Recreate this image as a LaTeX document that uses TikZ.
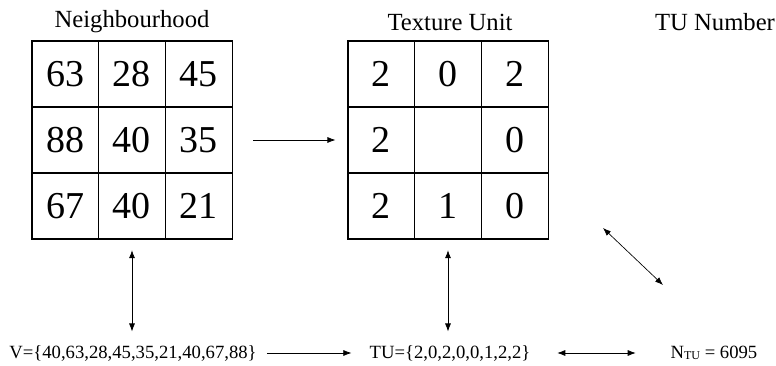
\documentclass[tikz,border=0pt]{standalone}
\usepackage{fontspec}
\setmainfont{Liberation Serif}
\usetikzlibrary{arrows.meta}

\tikzset{
  cell/.style={draw, line width=0.8pt, minimum width=50pt, minimum height=49.5pt, inner sep=0pt, font=\fontsize{28.5}{28}\selectfont},
  title/.style={font=\fontsize{18.5}{20}\selectfont, inner sep=0pt},
  setlbl/.style={font=\fontsize{14}{16}\selectfont, inner sep=0pt},
  link/.style={-{Latex[length=6pt,width=4.5pt]}, line width=0.5pt},
  twoway/.style={{Latex[length=6pt,width=4.5pt]}-{Latex[length=6pt,width=4.5pt]}, line width=0.5pt},
}

\begin{document}
\begin{tikzpicture}[x=0.75pt,y=0.75pt,yscale=-1,xscale=1]
  \useasboundingbox (0,0) rectangle (776,366);

  % titles
  \node[title] (nbtitle) at (132,22) {Neighbourhood};
  \node[title] (tutitle) at (450,22) {Texture Unit};
  \node[title] (numtitle) at (715,22) {TU Number};

  % 3x3 neighbourhood and its texture unit
  \foreach \row [count=\j from 0] in {{63,28,45},{88,40,35},{67,40,21}}
    \foreach \v [count=\i from 0] in \row
      \node[cell] (nb-\j-\i) at ({65.3+66.7*\i},{74+66*\j}) {\v};
  \foreach \row [count=\j from 0] in {{2,0,2},{2,{},0},{2,1,0}}
    \foreach \v [count=\i from 0] in \row
      \node[cell] (tu-\j-\i) at ({381.3+66.7*\i},{74+66*\j}) {\v};

  % bottom row
  \node[setlbl] (vset) at (133,353) {V=\{40,63,28,45,35,21,40,67,88\}};
  \node[setlbl] (tuset) at (450,353) {TU=\{2,0,2,0,0,1,2,2\}};
  \node[setlbl] (ntu) at (714,353) {N{\fontsize{9}{9}\selectfont\raisebox{-0.3ex}{TU}} = 6095};
  \coordinate (d1) at (603,228);
  \coordinate (d2) at (663,285);

  % arrows
  \draw[link, shorten <=15.5pt, shorten >=9pt] (nb-1-2.east) -- (tu-1-0.west);
  \draw[twoway, shorten <=8pt, shorten >=10pt] (nb-2-1.south) -- (vset.north -| nb-2-1.south);
  \draw[twoway, shorten <=8pt, shorten >=10pt] (tu-2-1.south) -- (tuset.north -| tu-2-1.south);
  \draw[link, shorten <=7.5pt, shorten >=13.5pt] (vset.east) -- (tuset.west);
  \draw[twoway, shorten <=20pt, shorten >=26pt] (tuset.east) -- (ntu.west);
  \draw[twoway] (d1) -- (d2);
\end{tikzpicture}
\end{document}
